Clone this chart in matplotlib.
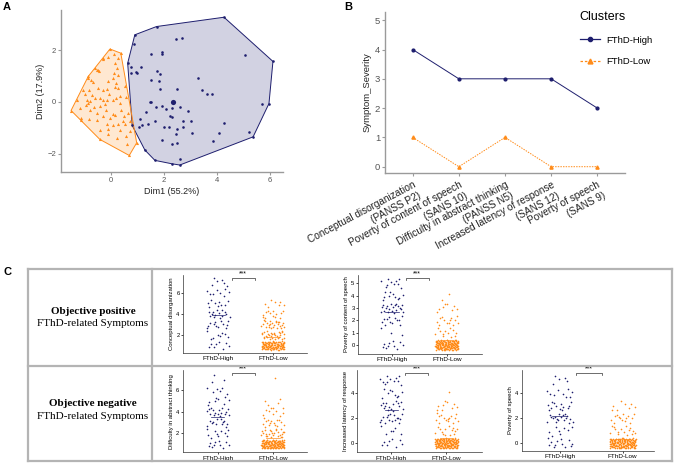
import numpy as np
import matplotlib
matplotlib.use('Agg')
import matplotlib.pyplot as plt
from matplotlib.lines import Line2D
from matplotlib.patches import Polygon
import matplotlib.transforms as mtransforms

plt.rcParams['font.family'] = ['Liberation Sans', 'DejaVu Sans']

W, H = 674, 463
NAVY = '#1E1E6E'
ORANGE = '#FF8C1A'

# ---------------- Panel A data (PCA scatter) ----------------
navy_x = [0.62, 0.89, 1.71, 4.26, 6.11, 5.96, 5.36, 2.59, 2.28, 1.65, 1.27, 0.79,
          2.43, 2.68, 1.92, 1.92, 1.52, 5.07, 0.74, 0.93, 1.11, 1.74, 1.84, 1.50, 1.80,
          3.28, 2.50, 3.41, 3.60, 3.81, 1.48, 1.69, 1.92, 2.05, 2.30, 2.59, 2.90, 1.30,
          2.21, 2.28, 1.08, 1.64, 2.70, 3.02, 1.18, 1.05, 1.37, 1.99, 2.18, 2.50, 2.70,
          2.44, 3.04, 1.90, 2.28, 2.50, 3.85, 4.06, 4.25, 5.19, 5.71, 2.59, 0.86, 0.74,
          0.96, 1.52, 1.84]
navy_y = [1.50, 2.60, 2.92, 3.28, 1.57, -0.06, -1.35, -2.44, -2.39, -2.26, -1.86, -0.91,
          2.44, 2.47, 1.95, 1.85, 1.85, 1.80, 1.34, 1.16, 1.34, 1.21, 1.08, 0.86, 0.80,
          0.93, 0.51, 0.45, 0.31, 0.31, 0.01, -0.21, -0.17, -0.26, -0.23, -0.19, -0.33, -0.39,
          -0.55, -0.59, -0.64, -0.75, -0.75, -0.72, -0.91, -0.96, -0.85, -0.98, -0.98, -1.04, -0.98,
          -1.23, -1.20, -1.48, -1.61, -1.58, -1.52, -1.20, -0.81, -1.16, -0.06, -2.20, 2.24, 1.12,
          1.12, -0.01, 0.50]
navy_center = (2.34, 0.01)

orange_x = [-0.05, 0.36, 0.96, 0.68, -0.43, -1.16, -1.52, -0.87, -0.30,
            -0.33, -0.14, 0.11, -0.62, -0.55, -0.45, 0.11, -0.87, -0.78, -0.70, -0.14, 0.05,
            0.26, -1.06, -0.83, -0.52, -0.33, 0.14, 0.26, 0.52, -1.28, -0.91, -0.87, -0.81,
            -0.62, -0.43, -0.33, -0.15, -0.08, 0.05, 0.18, 0.33, 0.55, -1.18, -0.96, -0.81,
            -0.55, -0.43, -0.20, 0.05, 0.14, 0.35, 0.64, -1.14, -0.83, -0.53, -0.15, 0.05,
            0.26, 0.52, 0.45, 0.70, -0.11, 0.33, 0.70, -0.43, -0.11, 0.23, 0.55, 0.58, 0.14,
            0.20, 0.18, -0.18, -1.00, -0.74, -0.24, 0.33, 0.48, -0.05, -0.30, -0.65, -0.52, 0.26]
orange_y = [2.05, 1.89, -1.58, -2.07, -1.45, -0.68, -0.33, 0.99, 1.70,
            1.67, 1.76, 1.86, 1.31, 1.25, 1.18, 1.12, 0.93, 0.86, 0.76, 0.82, 0.93,
            1.05, 0.48, 0.45, 0.54, 0.45, 0.58, 0.54, 0.60, 0.09, 0.09, -0.04, 0.03,
            0.15, 0.15, 0.09, 0.09, 0.32, 0.09, 0.15, 0.24, 0.19, -0.23, -0.10, -0.30,
            -0.42, -0.17, -0.30, -0.45, -0.49, -0.30, -0.42, -0.62, -0.66, -0.68, -0.87, -0.91,
            -0.87, -0.87, -0.75, -0.75, -1.04, -1.07, -1.13, -1.07, -1.23, -1.39, -1.32, -1.61, 1.50,
            1.31, 0.73, 0.50, 0.32, 0.28, -0.06, -0.04, -0.55, -0.62, -0.55, -0.19, 1.25, 1.70]

# ---------------- Panel B data ----------------
symptoms = ['Conceptual disorganization\n(PANSS P2)',
            'Poverty of content of speech\n(SANS 10)',
            'Difficulty in abstract thinking\n(PANSS N5)',
            'Increased latency of response\n(SANS 12)',
            'Poverty of speech\n(SANS 9)']
severity_high = [4, 3, 3, 3, 2]
severity_low = [1, 0, 1, 0, 0]
cluster_names = ['FThD-High', 'FThD-Low']

# ---------------- Panel C data (counts of subjects per score) ----------------
scores_17 = [1, 2, 3, 4, 5, 6, 7]
scores_05 = [0, 1, 2, 3, 4, 5]
cd_high = [8, 8, 12, 14, 9, 8, 6]
cd_low = [110, 30, 25, 13, 7, 0, 0]
pcs_high = [10, 3, 12, 20, 10, 10]
pcs_low = [150, 12, 13, 8, 2, 0]
dat_high = [10, 10, 12, 16, 8, 6, 3]
dat_low = [130, 25, 15, 10, 4, 0, 1]
ilr_high = [8, 6, 16, 15, 9, 11]
ilr_low = [146, 14, 15, 9, 1, 0]
pos_high = [12, 8, 18, 13, 9, 5]
pos_low = [148, 15, 14, 8, 0, 0]
row_titles = ['Objective positive', 'Objective negative']
row_subtitle = 'FThD-related Symptoms'

fig = plt.figure(figsize=(W / 100, H / 100), dpi=100)


def px_axes(left, top, right, bottom):
    return fig.add_axes([left / W, 1 - bottom / H, (right - left) / W, (bottom - top) / H])


def hull(xs, ys):
    pts = sorted(set(zip(xs, ys)))

    def cross(o, a, b):
        return (a[0] - o[0]) * (b[1] - o[1]) - (a[1] - o[1]) * (b[0] - o[0])
    lower, upper = [], []
    for p in pts:
        while len(lower) >= 2 and cross(lower[-2], lower[-1], p) <= 0:
            lower.pop()
        lower.append(p)
    for p in reversed(pts):
        while len(upper) >= 2 and cross(upper[-2], upper[-1], p) <= 0:
            upper.pop()
        upper.append(p)
    return lower[:-1] + upper[:-1]


def halton(i, base):
    f, r = 1.0, 0.0
    while i > 0:
        f /= base
        r += f * (i % base)
        i //= base
    return r


def style_spines(ax, color, lw):
    for s in ['top', 'right']:
        ax.spines[s].set_visible(False)
    for s in ['left', 'bottom']:
        ax.spines[s].set_color(color)
        ax.spines[s].set_linewidth(lw)


# ================= Panel A =================
axA = px_axes(61, 10, 283, 172)
for xs, ys, col in [(navy_x, navy_y, NAVY), (orange_x, orange_y, ORANGE)]:
    hp = hull(xs, ys)
    axA.add_patch(Polygon(hp, closed=True, facecolor=col, alpha=0.2, edgecolor='none'))
    axA.add_patch(Polygon(hp, closed=True, facecolor='none', edgecolor=col, lw=0.7))
axA.scatter(navy_x, navy_y, s=3.5, color=NAVY, marker='o', linewidths=0, zorder=3)
axA.scatter(orange_x, orange_y, s=5, color=ORANGE, marker='^', linewidths=0, zorder=3)
axA.scatter([navy_center[0]], [navy_center[1]], s=14, color=NAVY, marker='o', linewidths=0, zorder=4)
axA.set_xlim(-1.90, 6.49)
axA.set_ylim(-2.71, 3.56)
axA.set_xticks([0, 2, 4, 6])
axA.set_yticks([-2, 0, 2])
style_spines(axA, '#9a9a9a', 1.0)
axA.tick_params(colors='#9a9a9a', labelcolor='#555555', labelsize=5.5, length=2, width=0.8, pad=1.5)
axA.set_xlabel('Dim1 (55.2%)', fontsize=6.5, labelpad=2, color='#222222')
axA.set_ylabel('Dim2 (17.9%)', fontsize=6.5, labelpad=2, color='#222222')

# ================= Panel B =================
axB = px_axes(385, 12, 625, 173)
xpos = np.arange(1, len(symptoms) + 1)
axB.plot(xpos, severity_high, color=NAVY, lw=0.7, marker='o', ms=2, label=cluster_names[0])
axB.plot(xpos, severity_low, color=ORANGE, lw=0.7, ls=(0, (1.5, 1.2)), marker='^', ms=2.3,
         label=cluster_names[1])
axB.set_xlim(0.4, 5.6)
axB.set_ylim(-0.215, 5.28)
axB.set_yticks(range(6))
axB.set_xticks(xpos)
axB.set_xticklabels(symptoms, rotation=28, rotation_mode='anchor', ha='right', va='top',
                    multialignment='right', fontsize=7.2, linespacing=1.25)
style_spines(axB, '#9a9a9a', 1.0)
axB.tick_params(axis='y', colors='#9a9a9a', labelcolor='#555555', labelsize=6.8, length=2, width=0.8, pad=1.5)
axB.tick_params(axis='x', colors='#9a9a9a', labelcolor='#222222', length=2, width=0.8, pad=3)
axB.set_ylabel('Symptom_Severity', fontsize=6.8, labelpad=2, color='#222222')

handles = [Line2D([], [], color=NAVY, lw=0.9, marker='o', ms=3),
           Line2D([], [], color=ORANGE, lw=0.9, ls=(0, (2, 1.5)), marker='^', ms=3.5)]
leg = fig.legend(handles, cluster_names, title='Clusters', loc='upper left',
                 bbox_to_anchor=(571 / W, 1 - 3 / H), frameon=False, fontsize=6.8,
                 title_fontsize=9, handlelength=2.2, labelspacing=1.3, alignment='left',
                 handletextpad=0.6)

# ================= Panel labels =================
fig.text(3 / W, 1 - 2 / H, 'A', fontsize=8, fontweight='bold', va='top', ha='left')
fig.text(344 / W, 1 - 2 / H, 'B', fontsize=8, fontweight='bold', va='top', ha='left')
fig.text(3 / W, 1 - 267 / H, 'C', fontsize=8, fontweight='bold', va='top', ha='left')

# ================= Panel C table frame =================
BORDER = '#b4b4b4'
frame_lines = [((28, 672), (269, 269)), ((28, 672), (461, 461)), ((28, 672), (366, 366)),
               ((28, 28), (269, 461)), ((672, 672), (269, 461)), ((152, 152), (269, 461))]
for xs, ys in frame_lines:
    fig.add_artist(Line2D([x / W for x in xs], [1 - y / H for y in ys], color=BORDER, lw=1.6))

for i, (ty, title) in enumerate(zip([311.5, 404], row_titles)):
    fig.text(93 / W, 1 - ty / H, title, family='Liberation Serif', fontweight='bold',
             fontsize=8.0, ha='center', va='center')
    fig.text(93 / W, 1 - (ty + 12.5) / H, row_subtitle, family='Liberation Serif',
             fontsize=8.0, ha='center', va='center')


def jitter_plot(ax, levels, counts_high, counts_low, width, ylabel, yticks, xlim, ylim):
    k = 0
    for gi, (counts, col) in enumerate([(counts_high, NAVY), (counts_low, ORANGE)]):
        xs, ys = [], []
        for lv, n in zip(levels, counts):
            for _ in range(n):
                k += 1
                u = halton(k * 7 + 3, 2)
                v = halton(k * 7 + 3, 3)
                xs.append(gi + 1 + (u - 0.5) * 2 * width)
                ys.append(lv + (v - 0.5) * 0.8)
        ax.scatter(xs, ys, s=1.4, color=col, linewidths=0, zorder=3)
        mean = np.dot(levels, counts) / np.sum(counts)
        ax.plot([gi + 1 - 0.12, gi + 1 + 0.12], [mean, mean], color=col, lw=0.5, zorder=4)
    ax.set_xlim(*xlim)
    ax.set_ylim(*ylim)
    ax.set_xticks([1, 2])
    ax.set_xticklabels(cluster_names, fontsize=4.6)
    ax.set_yticks(yticks)
    ax.tick_params(axis='y', labelsize=4.2, length=1.5, width=0.5, pad=1)
    ax.tick_params(axis='x', length=1.5, width=0.5, pad=1)
    style_spines(ax, '#333333', 0.5)
    ax.set_ylabel(ylabel, fontsize=4.3, labelpad=1.5)
    tr = mtransforms.blended_transform_factory(ax.transData, ax.transAxes)
    ax.plot([1.25, 1.25, 1.67, 1.67], [0.935, 0.965, 0.965, 0.935], color='#333333', lw=0.5,
            transform=tr, clip_on=False)
    ax.text(1.46, 0.975, '***', fontsize=5, ha='center', va='bottom', transform=tr)


ax1 = px_axes(183, 275, 307, 353)
jitter_plot(ax1, scores_17, cd_high, cd_low, 0.21, 'Conceptual disorganization', [2, 4, 6],
            (0.36, 2.62), (0.29, 7.71))
ax2 = px_axes(358, 275, 482, 354)
jitter_plot(ax2, scores_05, pcs_high, pcs_low, 0.21, 'Poverty of content of speech',
            [0, 1, 2, 3, 4, 5], (0.38, 2.64), (-0.73, 5.69))
ax3 = px_axes(182.7, 370, 307, 452.3)
jitter_plot(ax3, scores_17, dat_high, dat_low, 0.21, 'Difficulty in abstract thinking', [2, 4, 6],
            (0.36, 2.62), (0.25, 7.87))
ax4 = px_axes(357.3, 370, 481.7, 452.3)
jitter_plot(ax4, scores_05, ilr_high, ilr_low, 0.21, 'Increased latency of response', [0, 2, 4],
            (0.38, 2.64), (-0.72, 5.86))
ax5 = px_axes(521.7, 370, 654, 451)
jitter_plot(ax5, scores_05, pos_high, pos_low, 0.21, 'Poverty of speech', [0, 2, 4],
            (0.39, 2.5), (-0.62, 5.86))

fig.savefig('out.png', dpi=100)
